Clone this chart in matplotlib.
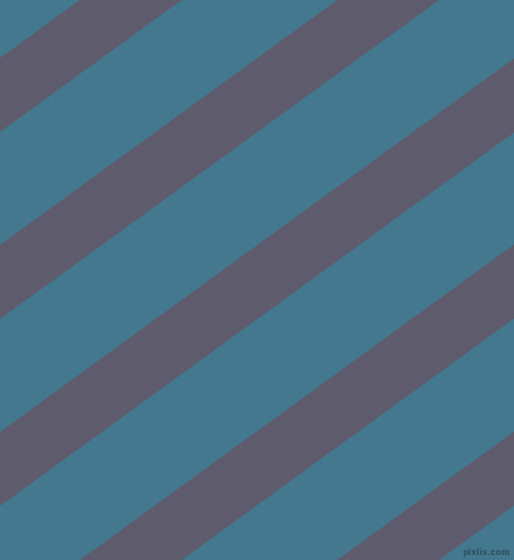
import numpy as np
import matplotlib
matplotlib.use("Agg")
import matplotlib.pyplot as plt

stripe_starts = [58, 245, 432, 618, 805]
stripe_width = 74
angle_deg = 36
background = "#43788f"
stripe_color = "#5e5c6c"
watermark = "pixlis.com"

W, H = 514, 560

fig = plt.figure(figsize=(W / 100, H / 100), dpi=100)
ax = fig.add_axes([0, 0, 1, 1])
ax.set_facecolor(background)
ax.set_xlim(0, W)
ax.set_ylim(H, 0)
ax.axis("off")
fig.patch.set_facecolor(background)

k = np.tan(np.radians(angle_deg))
x = np.array([0, W])
for c in stripe_starts:
    ax.fill_between(x, c - k * x, c + stripe_width - k * x,
                    color=stripe_color, linewidth=0)

ax.text(510, 555, watermark, ha="right", va="baseline", fontsize=6,
        color="#2e5263", fontweight="bold")

fig.savefig("out.png", dpi=100, facecolor=background)
